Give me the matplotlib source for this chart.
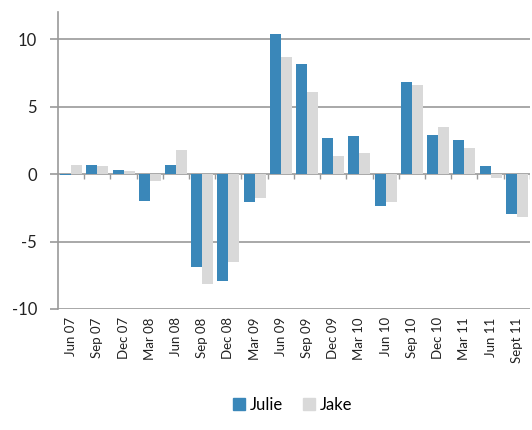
import numpy as np
import matplotlib.pyplot as plt
from matplotlib.patches import Patch

# quarters and the two series
quarters = ["Jun 07", "Sep 07", "Dec 07", "Mar 08", "Jun 08", "Sep 08", "Dec 08",
            "Mar 09", "Jun 09", "Sep 09", "Dec 09", "Mar 10", "Jun 10", "Sep 10",
            "Dec 10", "Mar 11", "Jun 11", "Sept 11"]
julie = [-0.1, 0.7, 0.3, -2.0, 0.7, -6.9, -7.9, -2.1, 10.35, 8.15, 2.7, 2.8,
         -2.4, 6.8, 2.9, 2.5, 0.6, -2.95]
jake = [0.7, 0.6, 0.25, -0.55, 1.75, -8.15, -6.5, -1.8, 8.7, 6.05, 1.35, 1.55,
        -2.1, 6.6, 3.45, 1.9, -0.3, -3.2]

blue = "#3a87b9"
grey = "#d9d9d9"
line_col = "#9a9a9a"

plt.rcParams['font.family'] = ['Lato', 'DejaVu Sans']
plt.rcParams['axes.unicode_minus'] = False

fig = plt.figure(figsize=(5.32, 4.30), dpi=100)
ax = fig.add_axes([0.109, 0.2814, 0.887, 0.6906])

x = np.arange(len(quarters))
w = 0.42
ax.bar(x - w / 2, julie, w, color=blue, zorder=3)
ax.bar(x + w / 2, jake, w, color=grey, zorder=3)

ax.set_xlim(-0.5, len(quarters) - 0.5)
ax.set_ylim(-10, 12)
ax.set_yticks([-10, -5, 0, 5, 10])
ax.yaxis.grid(True, color=line_col, linewidth=1.2, zorder=1)

# small ticks under the zero line at category boundaries
ax.vlines(np.arange(len(quarters)) + 0.5, 0, -0.4, color=line_col, linewidth=1.0, zorder=2)

for s in ['top', 'right', 'bottom']:
    ax.spines[s].set_visible(False)
ax.spines['left'].set_color(line_col)
ax.spines['left'].set_linewidth(1.2)

ax.set_xticks(x)
ax.set_xticklabels(quarters, rotation=90, fontsize=9.5, color="#222222")
ax.tick_params(axis='x', length=0, pad=6)
ax.tick_params(axis='y', length=6, color=line_col, width=1.2, pad=9,
               labelsize=12, labelcolor="#222222")

handles = [Patch(color=blue, label="Julie"), Patch(color=grey, label="Jake")]
fig.legend(handles=handles, loc='center', bbox_to_anchor=(0.55, 0.058), ncol=2,
           frameon=False, fontsize=12, handlelength=0.7, handleheight=0.7,
           handletextpad=0.3, columnspacing=1.2)

fig.savefig("out.png", dpi=100)
